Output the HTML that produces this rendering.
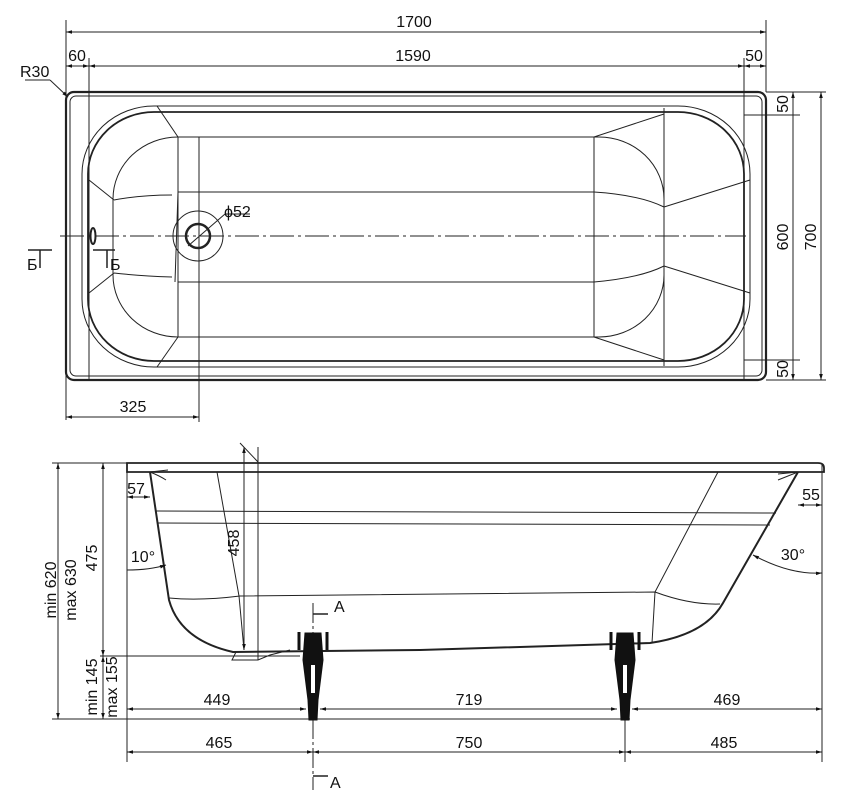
<!DOCTYPE html>
<html><head><meta charset="utf-8"><style>
html,body{margin:0;padding:0;background:#fff}
svg{display:block}
text{font-family:"Liberation Sans Narrow","Liberation Sans",sans-serif;fill:#111;font-size:16px}
</style></head><body>
<svg width="867" height="806" viewBox="0 0 867 806" xmlns="http://www.w3.org/2000/svg">
<defs>
<marker id="a" viewBox="0 0 10 10" refX="10" refY="5" markerWidth="8" markerHeight="6" orient="auto-start-reverse"><path d="M0,2 L10,5 L0,8 z" fill="#111"/></marker>
</defs>
<g stroke="#222" fill="none" stroke-width="1">
<line x1="66" y1="32" x2="766" y2="32" marker-start="url(#a)" marker-end="url(#a)"/>
<line x1="66" y1="20" x2="66" y2="420"/>
<line x1="766" y1="20" x2="766" y2="92"/>
<line x1="66" y1="66" x2="89" y2="66" marker-start="url(#a)" marker-end="url(#a)"/>
<line x1="89" y1="66" x2="744" y2="66" marker-start="url(#a)" marker-end="url(#a)"/>
<line x1="744" y1="66" x2="766" y2="66" marker-start="url(#a)" marker-end="url(#a)"/>
<line x1="89" y1="58" x2="89" y2="380"/>
<line x1="744" y1="58" x2="744" y2="380"/>
<line x1="25" y1="80" x2="50" y2="80"/>
<line x1="50" y1="80" x2="68" y2="97" marker-end="url(#a)"/>
<rect x="66" y="92" width="700" height="288" rx="8" stroke-width="2.2"/>
<rect x="70" y="96" width="692" height="280" rx="6"/>
<rect x="82" y="106" width="668" height="261" rx="72" ry="68"/>
<rect x="88" y="112" width="656" height="249" rx="66" ry="62" stroke-width="1.8"/>
<rect x="113" y="137" width="551" height="200" rx="65" ry="62"/>
<line x1="178" y1="137" x2="178" y2="337"/>
<line x1="594" y1="137" x2="594" y2="337"/>
<line x1="664" y1="108" x2="664" y2="366"/>
<path d="M178,192 L594,192 M178,282 L594,282"/>
<path d="M178,192 L175,282"/>
<path d="M157,106 L178,137 M89,180 L114,200 M114,200 Q140,195 172,195 M157,367 L178,337 M89,293 L114,273 M114,273 Q140,276 172,277"/>
<path d="M664,114 L594,137 M664,207 L750,180 M594,192 Q640,195 664,207 M664,266 L750,293 M594,282 Q640,278 664,266 M664,360 L594,337"/>
<circle cx="198" cy="236" r="25"/>
<circle cx="198" cy="236" r="12" stroke-width="2.5"/>
<line x1="188" y1="246" x2="225" y2="214"/>
<line x1="225" y1="214" x2="250" y2="214"/>
<line x1="199" y1="137" x2="199" y2="422"/>
<ellipse cx="93" cy="236" rx="2.5" ry="8" stroke-width="2"/>
<line x1="60" y1="236" x2="746" y2="236" stroke-dasharray="24,4,3,4"/>
<line x1="66" y1="417" x2="199" y2="417" marker-start="url(#a)" marker-end="url(#a)"/>
<path d="M28,250 L52,250 M40,250 L40,268" stroke-width="1.5"/>
<path d="M93,250 L115,250 M107,250 L107,268" stroke-width="1.5"/>
<line x1="766" y1="92" x2="826" y2="92"/>
<line x1="766" y1="380" x2="826" y2="380"/>
<line x1="744" y1="115" x2="800" y2="115"/>
<line x1="744" y1="360" x2="800" y2="360"/>
<line x1="793" y1="92" x2="793" y2="380" marker-start="url(#a)" marker-end="url(#a)"/>
<line x1="821" y1="92" x2="821" y2="380" marker-start="url(#a)" marker-end="url(#a)"/>

<path d="M127,463 L818,463 Q824,463 824,468 L824,472 L127,472 Z" stroke-width="1.8"/>
<path d="M150,472 L169,600 Q180,640 233,652 L420,650 L650,643 Q705,635 723,603 L798,472" stroke-width="2"/>
<path d="M150,472 L168,470 M150,472 Q160,476 166,480 M798,472 L778,474 M798,472 Q788,476 778,480"/>
<line x1="156" y1="511" x2="776" y2="513"/>
<line x1="158" y1="523" x2="770" y2="525"/>
<path d="M169,598 Q200,601 240,596 L655,592 Q690,605 720,604"/>
<path d="M217,472 L239,596 L244,650 M718,472 L655,592 L652,643"/>
<path d="M236,652 L232,660 L258,660 L270,655 L290,650"/>
<line x1="244" y1="447" x2="244" y2="650" marker-start="url(#a)" marker-end="url(#a)"/>
<line x1="258" y1="447" x2="258" y2="660"/>
<line x1="240" y1="443" x2="258" y2="462"/>
<line x1="52" y1="463" x2="127" y2="463"/>
<line x1="52" y1="719" x2="630" y2="719"/>
<line x1="100" y1="656" x2="300" y2="656"/>
<line x1="58" y1="463" x2="58" y2="719" marker-start="url(#a)" marker-end="url(#a)"/>
<line x1="103" y1="463" x2="103" y2="656" marker-start="url(#a)" marker-end="url(#a)"/>
<line x1="103" y1="656" x2="103" y2="719" marker-start="url(#a)" marker-end="url(#a)"/>
<line x1="127" y1="472" x2="127" y2="762"/>
<line x1="822" y1="463" x2="822" y2="762"/>
<line x1="127" y1="497" x2="150" y2="497" marker-start="url(#a)" marker-end="url(#a)"/>
<line x1="798" y1="505" x2="822" y2="505" marker-start="url(#a)" marker-end="url(#a)"/>
<path d="M127,570 Q150,570 166,565" marker-end="url(#a)"/>
<path d="M753,555 Q790,575 822,573" marker-start="url(#a)" marker-end="url(#a)"/>
<line x1="127" y1="709" x2="306" y2="709" marker-start="url(#a)" marker-end="url(#a)"/>
<line x1="320" y1="709" x2="617" y2="709" marker-start="url(#a)" marker-end="url(#a)"/>
<line x1="632" y1="709" x2="822" y2="709" marker-start="url(#a)" marker-end="url(#a)"/>
<line x1="127" y1="752" x2="313" y2="752" marker-start="url(#a)" marker-end="url(#a)"/>
<line x1="313" y1="752" x2="625" y2="752" marker-start="url(#a)" marker-end="url(#a)"/>
<line x1="625" y1="752" x2="822" y2="752" marker-start="url(#a)" marker-end="url(#a)"/>
<line x1="625" y1="719" x2="625" y2="762"/>
<line x1="313" y1="603" x2="313" y2="790" stroke-dasharray="20,3,3,3"/>
<path d="M313,614 L328,614 M313,776 L328,776" stroke-width="1.5"/>
</g>
<g fill="#111" stroke="#111">
<g transform="translate(313,0)">
<path d="M-8,633 L8,633 L10,660 L5,700 L4,720 L-4,720 L-5,700 L-10,660 Z"/>
<path d="M-14,632 L-14,650 M14,632 L14,650" stroke-width="3" fill="none"/>
<rect x="-2" y="665" width="4" height="28" fill="#fff" stroke="none"/>
</g>
<g transform="translate(625,0)">
<path d="M-8,633 L8,633 L10,660 L5,700 L4,720 L-4,720 L-5,700 L-10,660 Z"/>
<path d="M-14,632 L-14,650 M14,632 L14,650" stroke-width="3" fill="none"/>
<rect x="-2" y="665" width="4" height="28" fill="#fff" stroke="none"/>
</g>
</g>
<text x="414" y="27" text-anchor="middle">1700</text>
<text x="413" y="61" text-anchor="middle">1590</text>
<text x="77" y="61" text-anchor="middle">60</text>
<text x="754" y="61" text-anchor="middle">50</text>
<text x="20" y="77">R30</text>
<text x="224" y="217">ϕ52</text>
<text x="133" y="412" text-anchor="middle">325</text>
<text x="27" y="270">Б</text>
<text x="110" y="270">Б</text>
<g text-anchor="middle">
<text transform="translate(788,104) rotate(-90)">50</text>
<text transform="translate(788,237) rotate(-90)">600</text>
<text transform="translate(816,237) rotate(-90)">700</text>
<text transform="translate(788,369) rotate(-90)">50</text>
<text transform="translate(56,590) rotate(-90)">min 620</text>
<text transform="translate(76,590) rotate(-90)">max 630</text>
<text transform="translate(97,558) rotate(-90)">475</text>
<text transform="translate(97,687) rotate(-90)">min 145</text>
<text transform="translate(117,687) rotate(-90)">max 155</text>
<text transform="translate(239,543) rotate(-90)">458</text>
</g>
<text x="136" y="494" text-anchor="middle">57</text>
<text x="811" y="500" text-anchor="middle">55</text>
<text x="143" y="562" text-anchor="middle">10°</text>
<text x="793" y="560" text-anchor="middle">30°</text>
<text x="334" y="612">A</text>
<text x="330" y="788">A</text>
<text x="217" y="705" text-anchor="middle">449</text>
<text x="469" y="705" text-anchor="middle">719</text>
<text x="727" y="705" text-anchor="middle">469</text>
<text x="219" y="748" text-anchor="middle">465</text>
<text x="469" y="748" text-anchor="middle">750</text>
<text x="724" y="748" text-anchor="middle">485</text>
</svg>
</body></html>
